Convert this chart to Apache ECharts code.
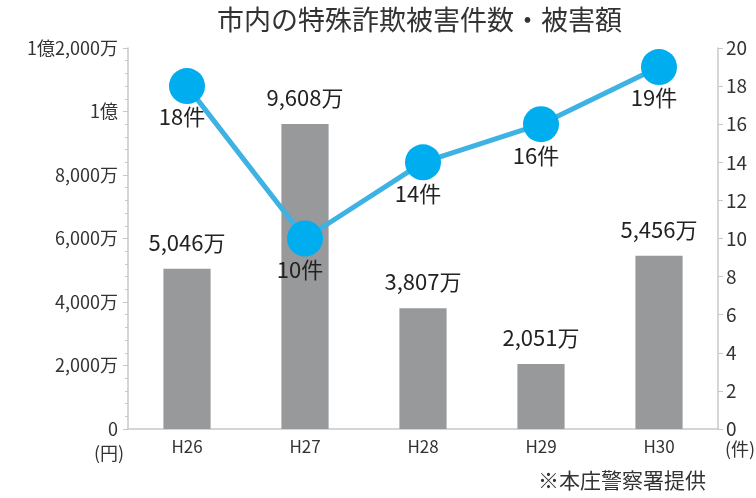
<!DOCTYPE html>
<html lang="ja">
<head>
<meta charset="UTF-8">
<title>市内の特殊詐欺被害件数・被害額</title>
<script src="https://cdn.jsdelivr.net/npm/echarts@6/dist/echarts.min.js"></script>
<style>
  html, body { margin: 0; padding: 0; background: #fff; }
  #chart { width: 756px; height: 498px; }
</style>
</head>
<body>
<div id="chart"></div>
<script>
// 年度
var years = ['H26', 'H27', 'H28', 'H29', 'H30'];
// 被害額（万円）
var amounts = [5046, 9608, 3807, 2051, 5456];
// 被害件数（件）
var counts = [18, 10, 14, 16, 19];

var font = '"Noto Sans CJK JP", "Noto Sans", sans-serif';

function yen(v) {
  if (v === 0) return '0';
  var oku = Math.floor(v / 10000);
  var man = v % 10000;
  var s = '';
  if (oku > 0) s += oku + '億';
  if (man > 0) s += man.toLocaleString('en-US') + '万';
  return s;
}

var chart = echarts.init(document.getElementById('chart'));
chart.setOption({
  backgroundColor: '#fff',
  animation: false,
  textStyle: { fontFamily: font },
  title: {
    text: '市内の特殊詐欺被害件数・被害額',
    left: 212,
    top: 1,
    textStyle: { fontSize: 27, fontWeight: 'normal', color: '#333', fontFamily: font }
  },
  graphic: [
    { type: 'text', left: 94, top: 444, style: { text: '(円)', fontSize: 18, fill: '#333', fontFamily: font } },
    { type: 'text', left: 725, top: 440, style: { text: '(件)', fontSize: 18, fill: '#333', fontFamily: font } },
    { type: 'text', left: 538, top: 470, style: { text: '※本庄警察署提供', fontSize: 21, fill: '#333', fontFamily: font } }
  ],
  grid: { left: 128, right: 38, top: 48, bottom: 69 },
  xAxis: {
    type: 'category',
    data: years,
    axisLine: { lineStyle: { color: '#c8c8c8', width: 1.5 } },
    axisTick: { lineStyle: { color: '#c8c8c8' }, length: 5 },
    axisLabel: { fontSize: 17, color: '#333', margin: 9, fontFamily: font }
  },
  yAxis: [{
    type: 'value',
    min: 0,
    max: 12000,
    interval: 2000,
    splitLine: { show: false },
    axisLine: { show: true, lineStyle: { color: '#c8c8c8', width: 1.5 } },
    axisTick: { show: true, length: 5, lineStyle: { color: '#c8c8c8' } },
    minorTick: { show: true, splitNumber: 5, length: 3, lineStyle: { color: '#c8c8c8' } },
    axisLabel: { fontSize: 18, color: '#333', margin: 10, fontFamily: font, formatter: yen }
  }, {
    type: 'value',
    min: 0,
    max: 20,
    interval: 2,
    splitLine: { show: false },
    axisLine: { show: true, lineStyle: { color: '#c8c8c8', width: 1.5 } },
    axisTick: { show: true, length: 5, lineStyle: { color: '#c8c8c8' } },
    axisLabel: { fontSize: 19, color: '#333', margin: 8, fontFamily: font }
  }],
  series: [{
    name: '被害額',
    type: 'bar',
    data: amounts,
    barWidth: '40%',
    itemStyle: { color: '#98999b' },
    label: {
      show: true,
      position: 'top',
      distance: 15,
      fontSize: 22,
      color: '#222',
      fontFamily: font,
      formatter: function (p) { return p.value.toLocaleString('en-US') + '万'; }
    }
  }, {
    name: '被害件数',
    type: 'line',
    yAxisIndex: 1,
    data: counts,
    symbol: 'circle',
    symbolSize: 36,
    lineStyle: { color: '#3db2e3', width: 5 },
    itemStyle: { color: '#00aeef' },
    label: {
      show: true,
      position: 'bottom',
      distance: 2,
      offset: [-5, 0],
      fontSize: 22,
      color: '#222',
      fontFamily: font,
      formatter: '{c}件'
    },
    z: 5
  }]
});
</script>
</body>
</html>
